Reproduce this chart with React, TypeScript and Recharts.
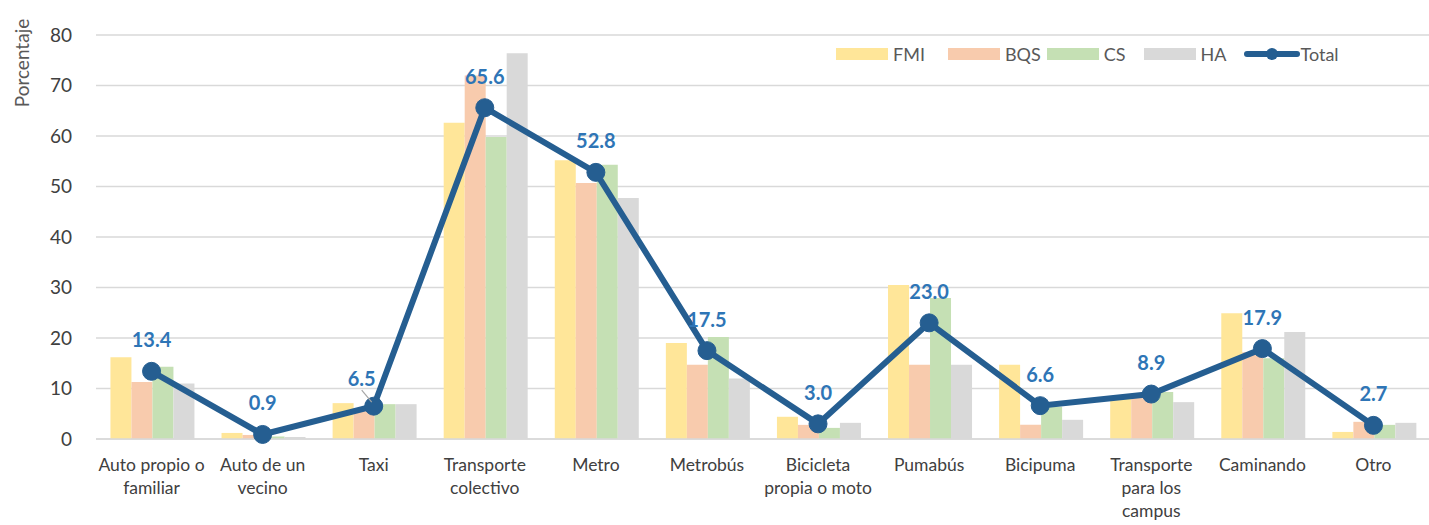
import {
  Bar,
  CartesianGrid,
  ComposedChart,
  LabelList,
  Line,
  XAxis,
  YAxis,
} from "recharts";

const categories = [
  "Auto propio o|familiar",
  "Auto de un|vecino",
  "Taxi",
  "Transporte|colectivo",
  "Metro",
  "Metrobús",
  "Bicicleta|propia o moto",
  "Pumabús",
  "Bicipuma",
  "Transporte|para los|campus",
  "Caminando",
  "Otro",
];

const fmi = [16.2, 1.2, 7.1, 62.6, 55.2, 19.0, 4.4, 30.5, 14.7, 8.1, 24.9, 1.4];
const bqs = [11.3, 0.8, 6.1, 72.0, 50.7, 14.7, 2.8, 14.7, 2.8, 8.1, 17.2, 3.4];
const cs = [14.3, 0.5, 6.9, 59.8, 54.3, 20.2, 2.2, 27.9, 6.4, 9.3, 16.0, 2.8];
const ha = [11.0, 0.4, 6.9, 76.4, 47.7, 12.0, 3.2, 14.7, 3.8, 7.3, 21.2, 3.2];
const total = [13.4, 0.9, 6.5, 65.6, 52.8, 17.5, 3.0, 23.0, 6.6, 8.9, 17.9, 2.7];

const yTicks = [0, 10, 20, 30, 40, 50, 60, 70, 80];

const COLORS = {
  fmi: "#FFE699",
  bqs: "#F8CBAD",
  cs: "#C5E0B4",
  ha: "#D9D9D9",
  total: "#255E91",
};

const FONT = "Lato, 'Noto Sans', sans-serif";

const data = categories.map((c, i) => ({
  name: c,
  FMI: fmi[i],
  BQS: bqs[i],
  CS: cs[i],
  HA: ha[i],
  Total: total[i],
}));

function CategoryTick(props: any) {
  const { x, y, payload } = props;
  const lines = String(payload.value).split("|");
  return (
    <text
      x={x}
      y={y + 24}
      textAnchor="middle"
      fill="#404040"
      fontSize={17.5}
      fontFamily={FONT}
    >
      {lines.map((l, i) => (
        <tspan key={i} x={x} dy={i === 0 ? 0 : 23}>
          {l}
        </tspan>
      ))}
    </text>
  );
}

// Taxi label sits a bit to the left with a small leader line in the original
function TotalLabel(props: any) {
  const { x, y, value, index } = props;
  const shifted = index === 2;
  const lx = shifted ? x - 12 : x;
  const ly = shifted ? y - 20 : y - 24;
  return (
    <g>
      {shifted && (
        <line x1={x - 12} y1={y - 16} x2={x - 2} y2={y - 4} stroke="#A6A6A6" strokeWidth={1.2} />
      )}
      <text
        x={lx}
        y={ly}
        textAnchor="middle"
        fill="#2E75B6"
        fontSize={20}
        fontWeight="bold"
        fontFamily={FONT}
      >
        {Number(value).toFixed(1)}
      </text>
    </g>
  );
}

const legendItems = [
  { key: "FMI", color: COLORS.fmi, gap: 23 },
  { key: "BQS", color: COLORS.bqs, gap: 6 },
  { key: "CS", color: COLORS.cs, gap: 18 },
  { key: "HA", color: COLORS.ha, gap: 18 },
];

// legend drawn as plain html so it takes no room from the plot
function ChartLegend() {
  return (
    <div
      style={{
        position: "absolute",
        left: 836,
        top: 43,
        display: "flex",
        alignItems: "center",
        fontFamily: FONT,
        fontSize: 18,
        color: "#595959",
      }}
    >
      {legendItems.map((it) => (
        <div
          key={it.key}
          style={{ display: "flex", alignItems: "center", marginRight: it.gap }}
        >
          <span
            style={{
              display: "inline-block",
              width: 52,
              height: 12,
              background: it.color,
              marginRight: 5,
            }}
          />
          <span>{it.key}</span>
        </div>
      ))}
      <div style={{ display: "flex", alignItems: "center" }}>
        <svg width={56} height={14}>
          <line
            x1={3}
            y1={7}
            x2={53}
            y2={7}
            stroke={COLORS.total}
            strokeWidth={6}
            strokeLinecap="round"
          />
          <circle cx={28} cy={7} r={6} fill={COLORS.total} />
        </svg>
        <span>Total</span>
      </div>
    </div>
  );
}

export default function App() {
  return (
    <div
      style={{
        position: "absolute",
        left: 0,
        top: 0,
        width: 1429,
        height: 525,
        background: "#fff",
      }}
    >
      <ComposedChart
        width={1429}
        height={525}
        data={data}
        margin={{ top: 35, right: 0, left: 10, bottom: 6 }}
        barCategoryGap="13%"
        barGap={0}
      >
        <CartesianGrid vertical={false} stroke="#D9D9D9" strokeWidth={1.5} />
        <XAxis
          dataKey="name"
          interval={0}
          height={80}
          tick={<CategoryTick />}
          tickLine={false}
          axisLine={{ stroke: "#D9D9D9", strokeWidth: 1.5 }}
        />
        <YAxis
          width={86}
          domain={[0, 80]}
          ticks={yTicks}
          interval={0}
          axisLine={false}
          tickLine={false}
          tick={{ fill: "#404040", fontSize: 19, fontFamily: FONT }}
          tickMargin={18}
          label={{
            content: () => (
              <text
                transform="translate(29,63) rotate(-90)"
                textAnchor="middle"
                fill="#595959"
                fontSize={19}
                fontFamily={FONT}
              >
                Porcentaje
              </text>
            ),
          }}
        />
        <Bar dataKey="FMI" fill={COLORS.fmi} isAnimationActive={false} />
        <Bar dataKey="BQS" fill={COLORS.bqs} isAnimationActive={false} />
        <Bar dataKey="CS" fill={COLORS.cs} isAnimationActive={false} />
        <Bar dataKey="HA" fill={COLORS.ha} isAnimationActive={false} />
        <Line
          dataKey="Total"
          stroke={COLORS.total}
          strokeWidth={6}
          dot={{ r: 9, fill: COLORS.total, stroke: COLORS.total, strokeWidth: 1 }}
          activeDot={false}
          isAnimationActive={false}
        >
          <LabelList dataKey="Total" content={<TotalLabel />} />
        </Line>
      </ComposedChart>
      <ChartLegend />
    </div>
  );
}
